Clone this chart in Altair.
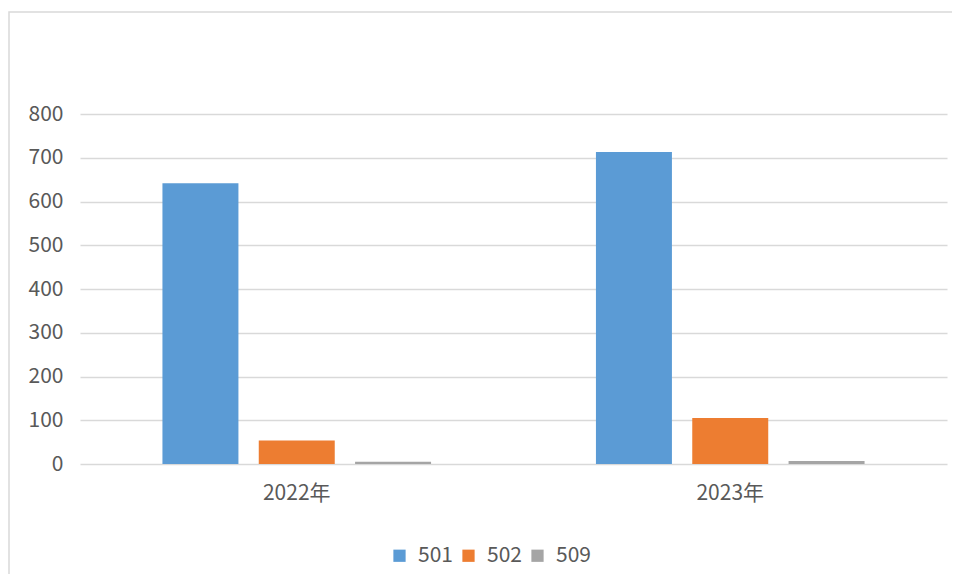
import altair as alt
import pandas as pd

years = ["2022年", "2023年"]
series = ["501", "502", "509"]
v501 = [642, 713]
v502 = [54, 105]
v509 = [5, 7]
colors = ["#5b9bd5", "#ed7d31", "#a5a5a5"]
y_ticks = [0, 100, 200, 300, 400, 500, 600, 700, 800]

rows = []
for s, vals in zip(series, [v501, v502, v509]):
    for yr, v in zip(years, vals):
        rows.append({"year": yr, "series": s, "value": v})
df = pd.DataFrame(rows)

W, H = 867, 350
PAD = {"left": 72, "top": 106, "right": 5, "bottom": 110}
FONT = "Noto Sans CJK SC"
TXT = "#595959"

border = alt.Chart(pd.DataFrame({"a": [0]})).mark_rect(
    filled=False, stroke="#d9d9d9", strokeWidth=1.5
).encode(
    x=alt.value(-71),
    x2=alt.value(W + 40),
    y=alt.value(-102),
    y2=alt.value(H + 150),
)

bars = alt.Chart(df).mark_bar().encode(
    x=alt.X(
        "year:N",
        sort=years,
        title=None,
        scale=alt.Scale(paddingInner=0, paddingOuter=0),
        axis=alt.Axis(
            labelAngle=0, ticks=False, domain=False, grid=False,
            labelFontSize=21, labelColor=TXT, labelFont=FONT, labelPadding=18,
        ),
    ),
    xOffset=alt.XOffset(
        "series:N", sort=series,
        scale=alt.Scale(paddingInner=0.211, paddingOuter=0.856),
    ),
    y=alt.Y(
        "value:Q",
        title=None,
        scale=alt.Scale(domain=[0, 800], nice=False),
        axis=alt.Axis(
            values=y_ticks, ticks=False, domain=False, grid=True,
            gridColor="#d9d9d9", gridWidth=1.5,
            labelFontSize=21, labelColor=TXT, labelFont=FONT, labelPadding=17,
        ),
    ),
    color=alt.Color(
        "series:N",
        sort=series,
        scale=alt.Scale(domain=series, range=colors),
        legend=alt.Legend(
            title=None, orient="none", direction="horizontal",
            legendX=309, legendY=431, symbolType="square", symbolSize=150,
            symbolStrokeWidth=0, labelFontSize=21, labelColor=TXT, labelFont=FONT,
            columnPadding=5, labelOffset=8, padding=0,
        ),
    ),
)

chart = alt.layer(border, bars).properties(
    width=W, height=H,
    autosize=alt.AutoSizeParams(type="none"),
    padding=PAD,
).configure(background="white").configure_view(stroke=None, strokeWidth=0)

chart.save("out.html", embed_options={"renderer": "svg", "actions": False})
